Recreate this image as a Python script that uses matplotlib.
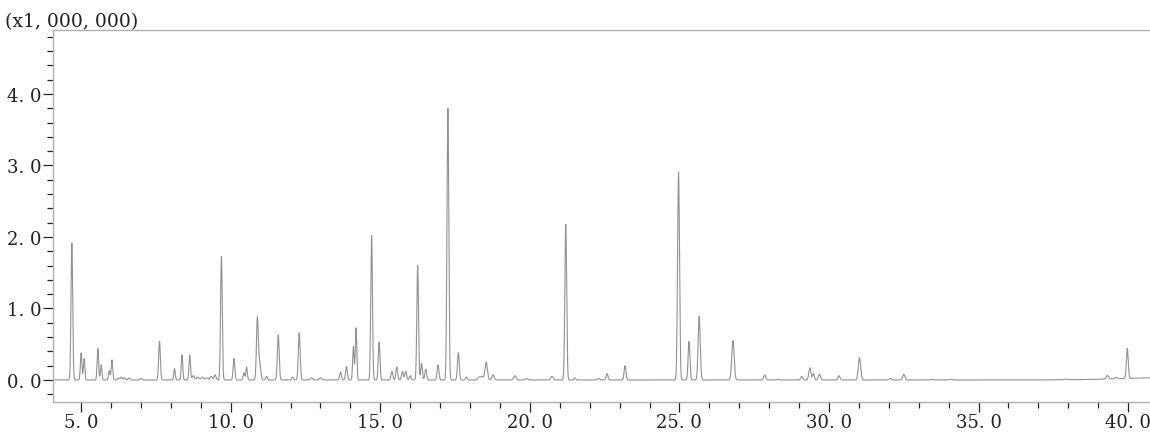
import numpy as np
import matplotlib
matplotlib.use("Agg")
import matplotlib.pyplot as plt
from matplotlib.ticker import MultipleLocator, FuncFormatter

# Peak table: retention time (min), height (x1,000,000), width (sigma, min)
PEAK_TIMES = [
    4.69, 5.00, 5.10, 5.56, 5.67, 5.94, 6.03, 6.25, 6.35, 6.45, 6.60, 7.00,
    7.62, 8.12, 8.37, 8.63, 8.75, 8.90, 9.05, 9.20, 9.35, 9.48,
    9.69, 10.11, 10.44, 10.53, 10.89, 10.96, 11.20, 11.59, 12.07, 12.29,
    12.70, 13.00, 13.67, 13.87, 14.10, 14.19, 14.71, 14.96, 15.39, 15.55,
    15.74, 15.85, 16.00, 16.25, 16.38, 16.52, 16.93, 17.26, 17.61, 17.88,
    18.30, 18.40, 18.54, 18.77, 19.50, 19.90, 20.74, 21.20, 21.50, 22.30,
    22.58, 23.18, 24.97, 25.32, 25.66, 26.79, 27.85, 28.30, 29.09, 29.36,
    29.48, 29.68, 30.33, 31.02, 32.05, 32.50, 33.45, 34.06, 37.90, 39.31,
    39.60, 39.97,
]
PEAK_HEIGHTS = [
    1.91, 0.38, 0.30, 0.44, 0.21, 0.13, 0.28, 0.03, 0.04, 0.03, 0.03, 0.02,
    0.54, 0.16, 0.35, 0.35, 0.06, 0.04, 0.04, 0.03, 0.05, 0.07,
    1.73, 0.30, 0.10, 0.18, 0.83, 0.25, 0.05, 0.63, 0.04, 0.66,
    0.03, 0.03, 0.11, 0.19, 0.47, 0.73, 2.02, 0.53, 0.12, 0.18,
    0.12, 0.12, 0.06, 1.60, 0.23, 0.15, 0.21, 3.80, 0.38, 0.04,
    0.04, 0.05, 0.25, 0.07, 0.06, 0.02, 0.05, 2.18, 0.03, 0.02,
    0.09, 0.20, 2.91, 0.54, 0.89, 0.55, 0.07, 0.01, 0.05, 0.17,
    0.09, 0.08, 0.06, 0.31, 0.02, 0.08, 0.01, 0.01, 0.01, 0.05,
    0.02, 0.42,
]
PEAK_WIDTHS = [
    0.028, 0.025, 0.025, 0.025, 0.025, 0.025, 0.025, 0.03, 0.03, 0.03, 0.03, 0.03,
    0.028, 0.025, 0.025, 0.025, 0.04, 0.04, 0.04, 0.04, 0.04, 0.03,
    0.028, 0.028, 0.025, 0.025, 0.03, 0.04, 0.03, 0.03, 0.03, 0.03,
    0.04, 0.04, 0.03, 0.03, 0.025, 0.025, 0.028, 0.028, 0.03, 0.03,
    0.03, 0.03, 0.03, 0.028, 0.028, 0.03, 0.03, 0.03, 0.03, 0.03,
    0.04, 0.04, 0.04, 0.04, 0.04, 0.04, 0.04, 0.03, 0.03, 0.04,
    0.03, 0.03, 0.032, 0.03, 0.035, 0.04, 0.035, 0.04, 0.035, 0.035,
    0.03, 0.035, 0.035, 0.04, 0.04, 0.04, 0.04, 0.04, 0.05, 0.04,
    0.04, 0.03,
]
# late baseline drift
DRIFT_CENTER, DRIFT_HEIGHT, DRIFT_WIDTH = 42.0, 0.04, 1.8

X_MAJOR = [5.0, 10.0, 15.0, 20.0, 25.0, 30.0, 35.0, 40.0]
Y_MAJOR = [0.0, 1.0, 2.0, 3.0, 4.0]

t = np.linspace(4.06, 40.73, 12000)
signal = DRIFT_HEIGHT * np.exp(-0.5 * ((t - DRIFT_CENTER) / DRIFT_WIDTH) ** 2)
for c, h, w in zip(PEAK_TIMES, PEAK_HEIGHTS, PEAK_WIDTHS):
    signal += h * np.exp(-0.5 * ((t - c) / w) ** 2)

fig = plt.figure(figsize=(11.5, 4.35), dpi=100)
ax = fig.add_axes([53 / 1150, 1 - 403 / 435, 1 - 53 / 1150, (403 - 31) / 435])
ax.plot(t, signal, color="#929292", linewidth=0.8)

ax.set_xlim(4.06, 40.73)
ax.set_ylim(-0.308, 4.895)

for side in ["left", "top", "bottom"]:
    ax.spines[side].set_color("#b0b0b0")
    ax.spines[side].set_linewidth(1.0)
ax.spines["right"].set_visible(False)

ax.set_xticks(X_MAJOR)
ax.set_yticks(Y_MAJOR)
ax.xaxis.set_minor_locator(MultipleLocator(1.0))
ax.yaxis.set_minor_locator(MultipleLocator(0.2))
fmt = FuncFormatter(lambda v, p: f"{v:.1f}".replace(".", ". "))
ax.xaxis.set_major_formatter(fmt)
ax.yaxis.set_major_formatter(fmt)
ax.tick_params(which="major", length=7, width=0.9, color="#222222", direction="out", pad=1)
ax.tick_params(which="minor", length=4.3, width=0.9, color="#222222", direction="out")
for lab in ax.get_xticklabels() + ax.get_yticklabels():
    lab.set_fontfamily("DejaVu Serif")
    lab.set_fontsize(13)
    lab.set_color("#222222")

fig.text(5 / 1150, 1 - 27 / 435, "(x1, 000, 000)", fontsize=13.5,
         family="DejaVu Serif", color="#222222", ha="left", va="baseline")

fig.savefig("out.png", dpi=100)
plt.close(fig)
